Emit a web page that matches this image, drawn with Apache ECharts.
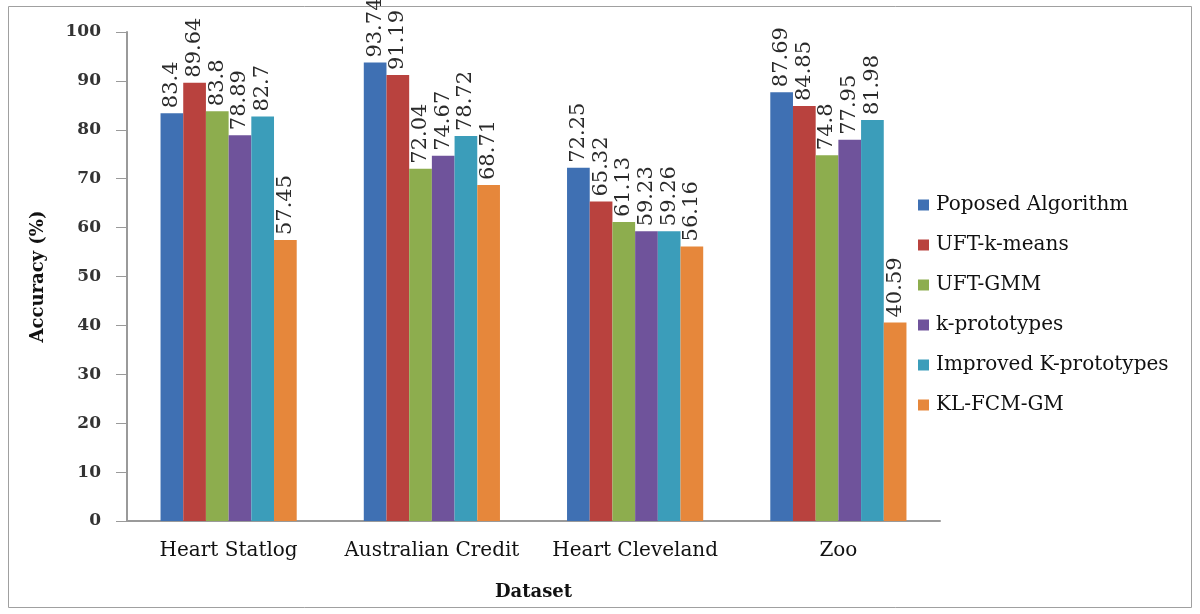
<!DOCTYPE html>
<html>
<head>
<meta charset="utf-8">
<script src="https://cdn.jsdelivr.net/npm/echarts@6/dist/echarts.min.js"></script>
<style>
  html, body { margin: 0; padding: 0; background: #fff; }
  #chart { width: 1200px; height: 614px; }
</style>
</head>
<body>
<div id="chart"></div>
<script>
// Datasets on the x axis
const datasets = ['Heart Statlog', 'Australian Credit', 'Heart Cleveland', 'Zoo'];

// Accuracy (%) of each method per dataset
const proposed     = [83.4, 93.74, 72.25, 87.69];
const uftKMeans    = [89.64, 91.19, 65.32, 84.85];
const uftGmm       = [83.8, 72.04, 61.13, 74.8];
const kPrototypes  = [78.89, 74.67, 59.23, 77.95];
const improvedKPro = [82.7, 78.72, 59.26, 81.98];
const klFcmGm      = [57.45, 68.71, 56.16, 40.59];

const seriesNames = ['Poposed Algorithm', 'UFT-k-means', 'UFT-GMM', 'k-prototypes', 'Improved K-prototypes', 'KL-FCM-GM'];
const seriesValues = [proposed, uftKMeans, uftGmm, kPrototypes, improvedKPro, klFcmGm];
const colors = ['#3F70B3', '#B9423E', '#8DAD4E', '#6F539B', '#3B9DBA', '#E6873B'];

// Y axis ticks
const yTicks = [0, 10, 20, 30, 40, 50, 60, 70, 80, 90, 100];

const FONT = 'DejaVu Serif';

const chart = echarts.init(document.getElementById('chart'));

const series = seriesNames.map((name, i) => ({
  name,
  type: 'bar',
  data: seriesValues[i],
  barGap: '0%',
  barCategoryGap: '33%',
  itemStyle: { color: colors[i] },
  label: {
    show: true,
    position: 'top',
    rotate: 90,
    align: 'left',
    verticalAlign: 'middle',
    distance: 5,
    fontFamily: FONT,
    fontSize: 21,
    color: '#2a2a2a',
    formatter: p => String(p.value)
  }
}));

chart.setOption({
  backgroundColor: '#fff',
  animation: false,
  color: colors,
  graphic: [{
    type: 'rect',
    shape: { x: 8.5, y: 6.5, width: 1183, height: 601 },
    style: { fill: 'none', stroke: '#a0a0a0', lineWidth: 1 },
    z: -1
  }],
  grid: { left: 127, right: 260, top: 32, bottom: 93, containLabel: false },
  legend: {
    orient: 'vertical',
    left: 913,
    top: 190,
    itemWidth: 11,
    itemHeight: 11,
    itemGap: 20,
    icon: 'rect',
    textStyle: { fontFamily: FONT, fontSize: 20, color: '#111', padding: [0, 0, 0, 2] },
    data: seriesNames
  },
  xAxis: {
    type: 'category',
    data: datasets,
    name: 'Dataset',
    nameLocation: 'middle',
    nameGap: 62,
    nameTextStyle: { fontFamily: FONT, fontSize: 18, fontWeight: 'bold', color: '#111' },
    axisLine: { lineStyle: { color: '#9a9a9a', width: 2 } },
    axisTick: { show: false },
    axisLabel: { interval: 0, fontFamily: FONT, fontSize: 20, color: '#111', margin: 20 }
  },
  yAxis: {
    type: 'value',
    min: 0,
    max: 100,
    interval: 10,
    name: 'Accuracy (%)',
    nameLocation: 'middle',
    nameGap: 80,
    nameTextStyle: { fontFamily: FONT, fontSize: 18, fontWeight: 'bold', color: '#111' },
    axisLine: { show: true, lineStyle: { color: '#9a9a9a', width: 2 } },
    axisTick: { show: true, length: 11, lineStyle: { color: '#9a9a9a', width: 1 }, customValues: yTicks },
    splitLine: { show: false },
    axisLabel: { fontFamily: FONT, fontSize: 17, fontWeight: 'bold', color: '#333', margin: 26, customValues: yTicks }
  },
  series
});
</script>
</body>
</html>
